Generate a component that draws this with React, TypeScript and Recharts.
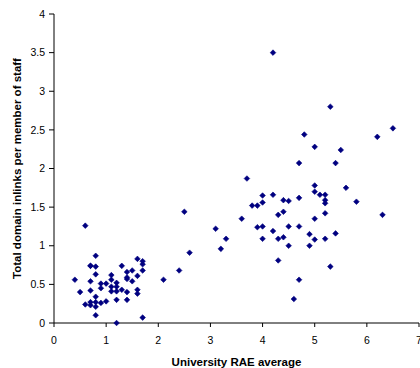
import { Scatter, ScatterChart, XAxis, YAxis } from "recharts";

// University RAE average (x) vs total domain inlinks per member of staff (y)
const raeAverage = [
  0.4, 0.5, 0.6, 0.6, 0.7, 0.7, 0.7, 0.7, 0.7, 0.7, 0.8, 0.8, 0.8, 0.8, 0.8, 0.8, 0.8,
  0.9, 0.9, 0.9, 1.0, 1.0, 1.1, 1.1, 1.1, 1.1, 1.2, 1.2, 1.2, 1.2, 1.2, 1.3, 1.3,
  1.4, 1.4, 1.4, 1.4, 1.4, 1.5, 1.5, 1.6, 1.6, 1.6, 1.6, 1.7, 1.7, 1.7, 1.7,
  2.1, 2.4, 2.5, 2.6,
  3.1, 3.2, 3.3, 3.6, 3.7, 3.8, 3.9, 3.9, 4.0, 4.0, 4.0, 4.0, 4.2, 4.2, 4.2,
  4.3, 4.3, 4.3, 4.4, 4.4, 4.4, 4.5, 4.5, 4.5, 4.6, 4.7, 4.7, 4.7, 4.7, 4.8,
  4.9, 4.9, 5.0, 5.0, 5.0, 5.0, 5.0, 5.1, 5.2, 5.2, 5.2, 5.2, 5.2, 5.3, 5.3,
  5.4, 5.4, 5.5, 5.6, 5.8, 6.2, 6.3, 6.5,
];
const inlinksPerStaff = [
  0.56, 0.4, 1.26, 0.24, 0.74, 0.54, 0.42, 0.27, 0.23, 0.74, 0.87, 0.73, 0.63, 0.34, 0.27, 0.21, 0.1,
  0.51, 0.45, 0.26, 0.51, 0.28, 0.62, 0.56, 0.47, 0.41, 0.52, 0.47, 0.41, 0.3, 0.0, 0.74, 0.43,
  0.66, 0.59, 0.57, 0.4, 0.3, 0.68, 0.54, 0.83, 0.61, 0.43, 0.38, 0.8, 0.76, 0.68, 0.07,
  0.56, 0.68, 1.44, 0.91,
  1.22, 0.96, 1.09, 1.35, 1.87, 1.52, 1.52, 1.24, 1.65, 1.56, 1.25, 1.09, 3.5, 1.66, 1.19,
  1.4, 1.09, 0.81, 1.59, 1.44, 1.11, 1.58, 1.25, 1.0, 0.31, 2.07, 1.62, 1.25, 0.56, 2.44,
  1.15, 1.0, 2.28, 1.78, 1.7, 1.35, 1.08, 1.66, 1.66, 1.59, 1.55, 1.42, 1.09, 2.8, 0.73,
  2.07, 1.16, 2.24, 1.75, 1.57, 2.41, 1.4, 2.52,
];
const xTicks = [0, 1, 2, 3, 4, 5, 6, 7];
const yTicks = [0, 0.5, 1, 1.5, 2, 2.5, 3, 3.5, 4];

const points = raeAverage.map((x, i) => ({ x, y: inlinksPerStaff[i] }));

const font = "'Liberation Sans', Arial, sans-serif";
const tickStyle = { fill: "#000", fontSize: 10.5, fontFamily: font };
const titleStyle = { fill: "#000", fontSize: 11.5, fontWeight: "bold", fontFamily: font };

function Diamond(props: any) {
  const { cx, cy } = props;
  if (cx == null || cy == null) return null;
  const r = 2.8;
  return (
    <path
      d={`M${cx},${cy - r}L${cx + r},${cy}L${cx},${cy + r}L${cx - r},${cy}Z`}
      fill="#000080"
      stroke="#000080"
      strokeWidth={0.6}
      strokeLinejoin="round"
    />
  );
}

export default function App() {
  return (
    <div style={{ position: "absolute", left: 0, top: 0, width: 420, height: 368, background: "#fff" }}>
      <style>{"body{margin:0}"}</style>
      <ScatterChart width={420} height={368} margin={{ top: 14, right: 1, left: 0, bottom: 0 }}>
        <XAxis
          type="number"
          dataKey="x"
          domain={[0, 7]}
          ticks={xTicks}
          interval={0}
          height={45}
          tickSize={4}
          tickMargin={10}
          tick={tickStyle}
          axisLine={{ stroke: "#000" }}
          tickLine={{ stroke: "#000" }}
          label={{ value: "University RAE average", position: "insideBottom", offset: 2, style: titleStyle }}
        />
        <YAxis
          type="number"
          dataKey="y"
          domain={[0, 4]}
          ticks={yTicks}
          interval={0}
          width={54}
          tickSize={5}
          tickMargin={4}
          tick={tickStyle}
          axisLine={{ stroke: "#000" }}
          tickLine={{ stroke: "#000" }}
          label={{
            value: "Total domain inlinks per member of staff",
            angle: -90,
            position: "insideLeft",
            offset: 17,
            style: { ...titleStyle, textAnchor: "middle" },
          }}
        />
        <Scatter data={points} shape={<Diamond />} isAnimationActive={false} legendType="none" />
      </ScatterChart>
    </div>
  );
}
